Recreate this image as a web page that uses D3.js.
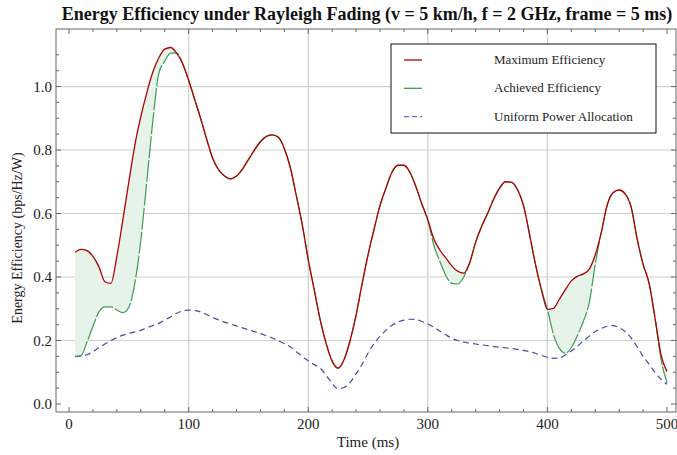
<!DOCTYPE html>
<html lang="en">
<head>
<meta charset="utf-8">
<title>Energy Efficiency</title>
<script src="https://d3js.org/d3.v7.min.js"></script>
<style>
  body { margin: 0; background: #fff; }
  svg { font-family: "Liberation Serif", "Times New Roman", serif; }
</style>
</head>
<body>
<script>
const times = d3.range(5, 501, 5) // sample times, ms
const maxEff = [0.478, 0.487, 0.483, 0.465, 0.432, 0.385, 0.380, 0.465, 0.58, 0.70,
  0.815, 0.905, 0.98, 1.045, 1.09, 1.118, 1.123, 1.105, 1.072, 1.02,
  0.96, 0.90, 0.835, 0.775, 0.738, 0.718, 0.709, 0.718, 0.74, 0.77,
  0.80, 0.826, 0.843, 0.848, 0.84, 0.805, 0.745, 0.657, 0.565, 0.455,
  0.36, 0.265, 0.19, 0.135, 0.113, 0.14, 0.2, 0.28, 0.378, 0.47,
  0.55, 0.625, 0.68, 0.73, 0.752, 0.752, 0.73, 0.685, 0.63, 0.58,
  0.52, 0.485, 0.46, 0.435, 0.418, 0.412, 0.445, 0.51, 0.56, 0.60,
  0.645, 0.68, 0.70, 0.698, 0.675, 0.625, 0.535, 0.44, 0.36, 0.298,
  0.301, 0.33, 0.36, 0.388, 0.402, 0.41, 0.425, 0.47, 0.54, 0.627,
  0.666, 0.674, 0.662, 0.62, 0.52, 0.44, 0.38, 0.27, 0.155, 0.102]
const achievedEff = [0.15, 0.152, 0.195, 0.245, 0.29, 0.306, 0.306, 0.296, 0.288, 0.305,
  0.38, 0.515, 0.70, 0.89, 1.04, 1.08, 1.105, 1.105, 1.072, 1.02,
  0.96, 0.90, 0.835, 0.775, 0.738, 0.718, 0.709, 0.718, 0.74, 0.77,
  0.80, 0.826, 0.843, 0.848, 0.84, 0.805, 0.745, 0.657, 0.565, 0.455,
  0.36, 0.265, 0.19, 0.135, 0.113, 0.14, 0.2, 0.28, 0.378, 0.47,
  0.55, 0.625, 0.68, 0.73, 0.752, 0.752, 0.73, 0.685, 0.63, 0.58,
  0.50, 0.45, 0.405, 0.38, 0.378, 0.40, 0.445, 0.51, 0.56, 0.60,
  0.645, 0.68, 0.70, 0.698, 0.675, 0.625, 0.535, 0.44, 0.36, 0.298,
  0.22, 0.175, 0.16, 0.178, 0.215, 0.26, 0.32, 0.44, 0.54, 0.627,
  0.666, 0.674, 0.662, 0.62, 0.52, 0.44, 0.38, 0.27, 0.14, 0.067]
const uniformEff = [0.149, 0.151, 0.155, 0.165, 0.177, 0.189, 0.2, 0.209, 0.217, 0.222,
  0.227, 0.232, 0.24, 0.247, 0.254, 0.264, 0.275, 0.286, 0.293, 0.296,
  0.295, 0.29, 0.282, 0.273, 0.265, 0.258, 0.252, 0.246, 0.24, 0.234,
  0.228, 0.222, 0.215, 0.208, 0.199, 0.19, 0.18, 0.165, 0.15, 0.136,
  0.124, 0.113, 0.09, 0.065, 0.048, 0.052, 0.068, 0.095, 0.125, 0.16,
  0.19, 0.213, 0.232, 0.248, 0.258, 0.264, 0.267, 0.266, 0.26, 0.252,
  0.242, 0.23, 0.218, 0.207, 0.2, 0.195, 0.192, 0.189, 0.186, 0.184,
  0.181, 0.179, 0.177, 0.175, 0.172, 0.169, 0.165, 0.16, 0.153, 0.147,
  0.144, 0.145, 0.155, 0.167, 0.182, 0.198, 0.214, 0.228, 0.238, 0.245,
  0.247, 0.24, 0.228, 0.208, 0.18, 0.15, 0.125, 0.1, 0.078, 0.062]
const xTicks = [0, 100, 200, 300, 400, 500]
const yTicks = [0.0, 0.2, 0.4, 0.6, 0.8, 1.0]
const legendLabels = ["Maximum Efficiency", "Achieved Efficiency", "Uniform Power Allocation"]

const w = 677, h = 455
const frameL = 56, frameR = 676, frameT = 29, frameB = 412

const svg = d3.select("body").append("svg").attr("width", w).attr("height", h)

const x = d3.scaleLinear().domain([-10.9, 507.5]).range([frameL, frameR])
const y = d3.scaleLinear().domain([-0.0252, 1.1812]).range([frameB, frameT])

// grid
svg.append("g").selectAll("line").data([100, 200, 300, 400]).enter().append("line")
   .attr("x1", d => x(d)).attr("x2", d => x(d)).attr("y1", frameT).attr("y2", frameB)
   .attr("stroke", "#cfcfcf").attr("stroke-width", 1.2)
svg.append("g").selectAll("line").data([0.2, 0.4, 0.6, 0.8, 1.0]).enter().append("line")
   .attr("y1", d => y(d)).attr("y2", d => y(d)).attr("x1", frameL).attr("x2", frameR)
   .attr("stroke", "#cfcfcf").attr("stroke-width", 1.2)

const pts = (vals) => times.map((t, i) => [t, vals[i]])
const line = d3.line().x(d => x(d[0])).y(d => y(d[1])).curve(d3.curveMonotoneX)

// shaded gap between maximum and achieved
const upper = line(pts(maxEff))
const lower = line(pts(achievedEff).reverse())
svg.append("path")
   .attr("d", upper + "L" + lower.slice(1) + "Z")
   .attr("fill", "#e6f3e8").attr("stroke", "none")

svg.append("path").attr("d", line(pts(uniformEff)))
   .attr("fill", "none").attr("stroke", "#4a4aa8").attr("stroke-width", 1.2)
   .attr("stroke-dasharray", "6,4")
svg.append("path").attr("d", line(pts(achievedEff)))
   .attr("fill", "none").attr("stroke", "#3f9a55").attr("stroke-width", 1.2)
   .attr("stroke-dasharray", "22,2")
svg.append("path").attr("d", line(pts(maxEff)))
   .attr("fill", "none").attr("stroke", "#b00000").attr("stroke-width", 1.3)

// frame + ticks on all sides
const axisCol = "#666"
svg.append("rect").attr("x", frameL).attr("y", frameT).attr("width", frameR - frameL).attr("height", frameB - frameT)
   .attr("fill", "none").attr("stroke", axisCol).attr("stroke-width", 1)

const ticks = svg.append("g").attr("stroke", axisCol).attr("stroke-width", 1)
d3.range(0, 501, 20).forEach(t => {
  const len = t % 100 === 0 ? 5 : 3
  ticks.append("line").attr("x1", x(t)).attr("x2", x(t)).attr("y1", frameB).attr("y2", frameB - len)
  ticks.append("line").attr("x1", x(t)).attr("x2", x(t)).attr("y1", frameT).attr("y2", frameT + len)
})
d3.range(0, 23).map(k => k * 0.05).forEach((v, k) => {
  const len = k % 4 === 0 ? 5 : 3
  ticks.append("line").attr("y1", y(v)).attr("y2", y(v)).attr("x1", frameL).attr("x2", frameL + len)
  ticks.append("line").attr("y1", y(v)).attr("y2", y(v)).attr("x1", frameR).attr("x2", frameR - len)
})

svg.append("g").selectAll("text").data(xTicks).enter().append("text")
   .attr("x", d => x(d)).attr("y", 429).attr("text-anchor", "middle")
   .attr("font-size", 15).attr("fill", "#222").text(d => d)
svg.append("g").selectAll("text").data(yTicks).enter().append("text")
   .attr("x", 52).attr("y", d => y(d) + 5).attr("text-anchor", "end")
   .attr("font-size", 15).attr("fill", "#222").text(d => d.toFixed(1))

svg.append("text").attr("x", 368).attr("y", 447).attr("text-anchor", "middle")
   .attr("font-size", 15).attr("fill", "#222").text("Time (ms)")
svg.append("text").attr("transform", "translate(22,238) rotate(-90)").attr("text-anchor", "middle")
   .attr("font-size", 14).attr("fill", "#222").text("Energy Efficiency (bps/Hz/W)")

svg.append("text").attr("x", 367).attr("y", 20).attr("text-anchor", "middle")
   .attr("font-size", 18).attr("font-weight", "bold").attr("fill", "#111")
   .text("Energy Efficiency under Rayleigh Fading (v = 5 km/h, f = 2 GHz, frame = 5 ms)")

// legend
const lg = svg.append("g")
lg.append("rect").attr("x", 391).attr("y", 44).attr("width", 265).attr("height", 89)
  .attr("fill", "#fff").attr("stroke", "#111").attr("stroke-width", 1)
const legendStyles = [
  {stroke: "#b00000", dash: null},
  {stroke: "#3f9a55", dash: null},
  {stroke: "#6a6ac0", dash: "5,3"}
]
legendLabels.forEach((lab, i) => {
  const ly = 60 + i * 28.3
  lg.append("line").attr("x1", 404).attr("x2", 422).attr("y1", ly).attr("y2", ly)
    .attr("stroke", legendStyles[i].stroke).attr("stroke-width", 1.3)
    .attr("stroke-dasharray", legendStyles[i].dash)
  lg.append("text").attr("x", 494).attr("y", ly + 4).attr("font-size", 13)
    .attr("fill", "#222").text(lab)
})
</script>
</body>
</html>
